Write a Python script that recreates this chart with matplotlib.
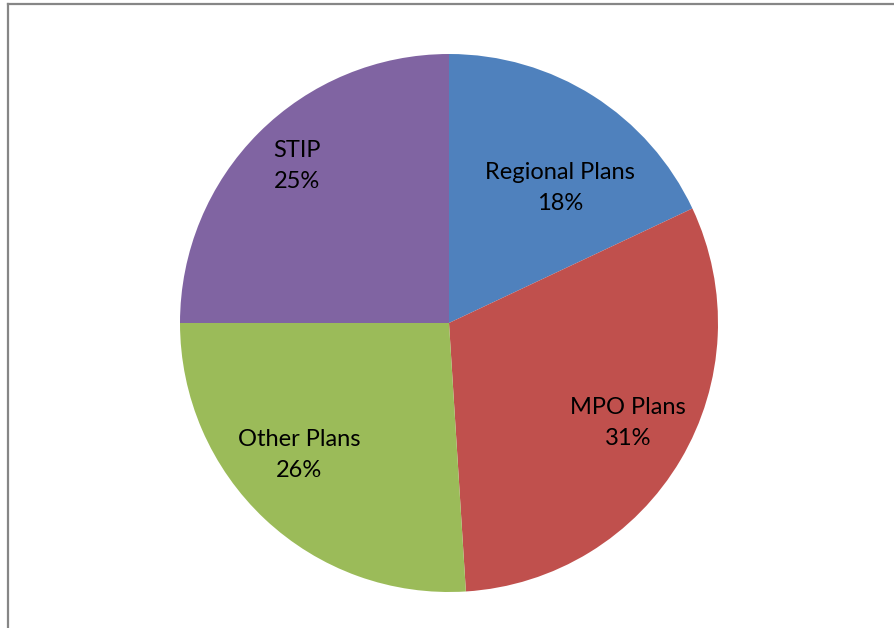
import matplotlib
matplotlib.use("Agg")
import matplotlib.pyplot as plt
from matplotlib.lines import Line2D

categories = ["Regional Plans", "MPO Plans", "Other Plans", "STIP"]
shares = [18, 31, 26, 25]
colors = ["#4F81BD", "#C0504D", "#9BBB59", "#8064A2"]

# label centres, in units of the pie radius (layout only)
label_pos = [(0.413, 0.502), (0.665, -0.372), (-0.557, -0.491), (-0.565, 0.584)]

plt.rcParams["font.family"] = ["Lato", "DejaVu Sans"]

W, H = 894, 628
fig = plt.figure(figsize=(W / 100, H / 100), dpi=100)
cx, cy, r = 449, 323, 269
ax = fig.add_axes([(cx - r) / W, (H - cy - r) / H, 2 * r / W, 2 * r / H])

ax.pie(shares, colors=colors, startangle=90, counterclock=False,
       radius=1.0, wedgeprops=dict(linewidth=0))

for name, val, (lx, ly) in zip(categories, shares, label_pos):
    ax.text(lx, ly, f"{name}\n{val}%", ha="center", va="center",
            fontsize=17, linespacing=1.6, color="#000000")

ax.set_xlim(-1, 1)
ax.set_ylim(-1, 1)
ax.set_aspect("equal")
ax.axis("off")

# chart area frame (only the top and left edges are visible)
fig.add_artist(Line2D([8 / W, 1], [1 - 4 / H, 1 - 4 / H], color="#868686", linewidth=1.6,
                      transform=fig.transFigure))
fig.add_artist(Line2D([8 / W, 8 / W], [0, 1 - 4 / H], color="#868686", linewidth=1.6,
                      transform=fig.transFigure))

fig.savefig("out.png", dpi=100)
